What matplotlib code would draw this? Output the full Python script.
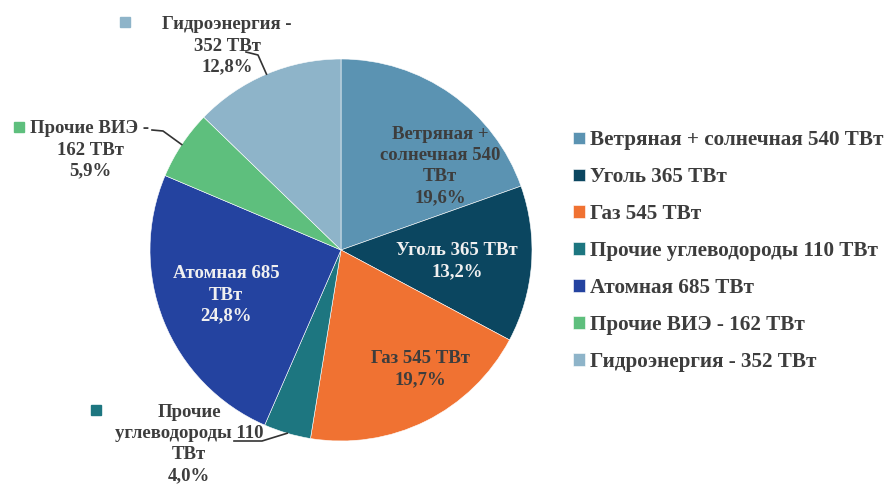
import matplotlib.pyplot as plt
import numpy as np

# --- data ---
sources = ["Ветряная + солнечная", "Уголь", "Газ", "Прочие углеводороды",
           "Атомная", "Прочие ВИЭ", "Гидроэнергия"]
values = [540, 365, 545, 110, 685, 162, 352]
pct_labels = ["19,6%", "13,2%", "19,7%", "4,0%", "24,8%", "5,9%", "12,8%"]
legend_labels = ["Ветряная + солнечная 540 ТВт", "Уголь 365 ТВт", "Газ 545 ТВт",
                 "Прочие углеводороды 110 ТВт", "Атомная 685 ТВт",
                 "Прочие ВИЭ - 162 ТВт", "Гидроэнергия - 352 ТВт"]
slice_labels = ["Ветряная +\nсолнечная 540\nТВт", "Уголь 365 ТВт", "Газ 545 ТВт",
                "Прочие\nуглеводороды 110\nТВт", "Атомная 685\nТВт",
                "Прочие ВИЭ -\n162 ТВт", "Гидроэнергия -\n352 ТВт"]
colors = ["#5b93b2", "#0b4660", "#f07232", "#1d7680", "#2443a0", "#5ebf7d", "#8eb4c9"]

FONT = "Liberation Serif"
TXT = "#3d3d3d"
LBL_SIZE = 13.5

fig = plt.figure(figsize=(8.88, 4.86), dpi=100)
# pie centre ~ (341, 250) px, radius ~191 px
ax = fig.add_axes([(341 - 191) / 888, 1 - (250 + 191) / 486, 382 / 888, 382 / 486])
wedges, _ = ax.pie(values, colors=colors, startangle=90, counterclock=False,
                   radius=1, wedgeprops=dict(linewidth=0.4, edgecolor="white"))
ax.set_xlim(-1, 1)
ax.set_ylim(-1, 1)
ax.set_aspect("equal")
ax.axis("off")


def px(x, y):
    # pixel position of the reference -> pie data coords
    return (x - 341) / 191, (250 - y) / 191


def edge_point(w, r=1.0):
    a = np.deg2rad((w.theta1 + w.theta2) / 2)
    return r * np.cos(a), r * np.sin(a)


# inside labels: (index, pixel centre, text colour)
inside = [(0, (440, 166), TXT), (1, (457, 261), "#f0f0f0"),
          (2, (420, 369), TXT), (4, (226, 295), "#f0f0f0")]
for i, (x, y), c in inside:
    tx, ty = px(x, y)
    ax.text(tx, ty, slice_labels[i] + "\n" + pct_labels[i], ha="center", va="center",
            fontsize=LBL_SIZE, fontfamily=FONT, fontweight="bold", color=c,
            linespacing=1.32)

# outside labels with leader lines and colour keys
outside = [
    # index, text centre, key pos, leader bend points
    (6, (227, 46), (125, 22), [(246, 52), (258, 55)]),
    (5, (90, 150), (19, 127), [(152, 130), (163, 131)]),
    (3, (189, 444), (96, 410), [(234, 441), (262, 441)]),
]
for i, (x, y), (kx, ky), bends in outside:
    tx, ty = px(x, y)
    ax.text(tx, ty, slice_labels[i] + "\n" + pct_labels[i], ha="center", va="center",
            fontsize=LBL_SIZE, fontfamily=FONT, fontweight="bold", color=TXT,
            linespacing=1.32, clip_on=False)
    kx_, ky_ = px(kx, ky)
    ax.plot([kx_], [ky_], "s", color=colors[i], markersize=6.5, clip_on=False)
    ex, ey = edge_point(wedges[i], 1.0)
    pts = [px(bx, by) for bx, by in bends] + [(ex, ey)]
    ax.plot([p[0] for p in pts], [p[1] for p in pts], color="#333333",
            lw=1.2, clip_on=False)

leg = fig.legend(wedges, legend_labels, loc="upper left",
                 bbox_to_anchor=(565 / 888, 1 - 122 / 486), frameon=False,
                 handlelength=0.55, handleheight=0.55, handletextpad=0.25,
                 labelspacing=0.8, borderaxespad=0,
                 prop=dict(family=FONT, weight="bold", size=15.2))
for t in leg.get_texts():
    t.set_color(TXT)

fig.savefig("out.png", dpi=100)
